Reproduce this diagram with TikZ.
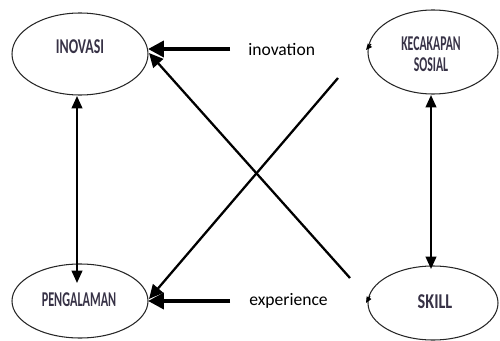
\documentclass[tikz,border=0pt]{standalone}
\usepackage{fontspec}
\usepackage{graphicx}
\setmainfont{Carlito}
\usetikzlibrary{arrows.meta,shapes.geometric}
\definecolor{lbl}{RGB}{55,50,70}
\tikzset{
  oval/.style={draw=black!85,line width=0.6pt,ellipse,inner sep=0pt},
  olabel/.style={text=lbl,font=\bfseries\fontsize{12}{13}\selectfont,align=center},
  thick arrow/.style={line width=2.2pt,-{Triangle[length=9pt,width=9pt]}},
  mid arrow/.style={line width=1.3pt,-{Triangle[length=8pt,width=7.5pt]}},
  dbl arrow/.style={line width=1.2pt,{Triangle[length=7pt,width=6pt]}-{Triangle[length=7pt,width=6pt]}},
  word/.style={font=\fontsize{10}{12}\selectfont,text=black,inner sep=0pt,anchor=west}
}
\begin{document}
\begin{tikzpicture}[x=0.02cm,y=-0.02cm]
\useasboundingbox (0,0) rectangle (500,341);
\node[oval,minimum width=136*0.02cm,minimum height=82*0.02cm] (inov) at (80,54) {};
\node[olabel] (inovt) at (80,47) {\scalebox{0.66}[1]{INOVASI}};
\node[oval,minimum width=130*0.02cm,minimum height=84*0.02cm] (kec) at (433,52) {};
\node[olabel] (kect) at (431,54) {\scalebox{0.56}[1]{KECAKAPAN}\\[-1pt]\scalebox{0.56}[1]{SOSIAL}};
\node[oval,minimum width=136*0.02cm,minimum height=74*0.02cm] (peng) at (80,301) {};
\node[olabel] (pengt) at (79,300) {\scalebox{0.58}[1]{PENGALAMAN}};
\node[oval,minimum width=130*0.02cm,minimum height=74*0.02cm] (skill) at (433,303) {};
\node[olabel] (skillt) at (435,302) {\scalebox{0.77}[1]{SKILL}};
\node[word] (inw) at (248,49) {inovation};
\node[word] (exw) at (249,301) {experience};
% free ends
\coordinate (h1) at (230,49);
\coordinate (h1t) at (148,49);
\coordinate (h2) at (230,301);
\coordinate (h2t) at (148,301);
\coordinate (d1) at (350,278);
\coordinate (d1t) at (149,53);
\coordinate (d2) at (338,78);
\coordinate (d2t) at (149,299);
\coordinate (v1a) at (77,96);
\coordinate (v1b) at (77,283);
\coordinate (v2a) at (431,95);
\coordinate (v2b) at (431,269);
\coordinate (m1a) at (371,44);
\coordinate (m1b) at (366,50);
\coordinate (m2a) at (370,296);
\coordinate (m2b) at (366,303);
\draw[thick arrow] (h1) -- (h1t);
\draw[thick arrow] (h2) -- (h2t);
\draw[mid arrow] (d1) -- (d1t);
\draw[mid arrow] (d2) -- (d2t);
\draw[dbl arrow] (v1a) -- (v1b);
\draw[dbl arrow] (v2a) -- (v2b);
\draw[line width=0.6pt,-{Triangle[length=3.5pt,width=3pt]}] (m1a) -- (m1b);
\draw[line width=0.6pt,-{Triangle[length=3.5pt,width=3pt]}] (m2a) -- (m2b);
\end{tikzpicture}
\end{document}
